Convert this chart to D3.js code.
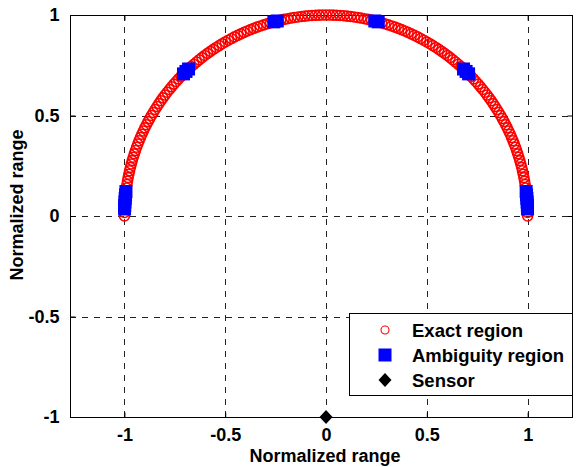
<!DOCTYPE html>
<html>
<head>
<meta charset="utf-8">
<script src="https://cdn.jsdelivr.net/npm/d3@7"></script>
<style>
  body { margin: 0; background: #fff; }
  text { font-family: "Liberation Sans", Arial, sans-serif; font-weight: bold; }
</style>
</head>
<body>
<script>
// exact region: unit radius, sampled angles (degrees)
var exactRadius = 1;
var exactAngles = [
  0, 1, 2, 3, 4, 5, 6, 7, 8, 9, 10, 11, 12, 13, 14, 15, 16, 17, 18, 19,
  20, 21, 22, 23, 24, 25, 26, 27, 28, 29, 30, 31, 32, 33, 34, 35, 36, 37, 38, 39,
  40, 41, 42, 43, 44, 45, 46, 47, 48, 49, 50, 51, 52, 53, 54, 55, 56, 57, 58, 59,
  60, 61, 62, 63, 64, 65, 66, 67, 68, 69, 70, 71, 72, 73, 74, 75, 76, 77, 78, 79,
  80, 81, 82, 83, 84, 85, 86, 87, 88, 89, 90, 91, 92, 93, 94, 95, 96, 97, 98, 99,
  100, 101, 102, 103, 104, 105, 106, 107, 108, 109, 110, 111, 112, 113, 114, 115, 116, 117, 118, 119,
  120, 121, 122, 123, 124, 125, 126, 127, 128, 129, 130, 131, 132, 133, 134, 135, 136, 137, 138, 139,
  140, 141, 142, 143, 144, 145, 146, 147, 148, 149, 150, 151, 152, 153, 154, 155, 156, 157, 158, 159,
  160, 161, 162, 163, 164, 165, 166, 167, 168, 169, 170, 171, 172, 173, 174, 175, 176, 177, 178, 179,
  180
];
// ambiguity region angles (degrees)
var ambiguityAngles = [2, 3, 4, 5, 6, 7, 45, 46, 47, 75, 76, 104, 105, 133, 134, 135, 173, 174, 175, 176, 177, 178];
// sensor position
var sensor = [{ x: 0, y: -1 }];

var xTicks = [-1, -0.5, 0, 0.5, 1];
var yTicks = [-1, -0.5, 0, 0.5, 1];
var legendItems = ["Exact region", "Ambiguity region", "Sensor"];

var W = 578, H = 467;
var box = { left: 70, right: 572, top: 15, bottom: 417 };
var fs = "18px";

var svg = d3.select("body").append("svg")
  .attr("width", W)
  .attr("height", H);

var x = d3.scaleLinear().domain([-1.27, 1.22]).range([box.left, box.right]);
var y = d3.scaleLinear().domain([-1, 1]).range([box.bottom, box.top]);

function toXY(a) {
  var t = a * Math.PI / 180;
  return { x: exactRadius * Math.cos(t), y: exactRadius * Math.sin(t) };
}

// grid
svg.append("g").selectAll("line").data(xTicks).enter().append("line")
  .attr("x1", d => Math.round(x(d)) + 0.5).attr("x2", d => Math.round(x(d)) + 0.5)
  .attr("y1", box.top).attr("y2", box.bottom)
  .style("stroke", "#222").style("stroke-dasharray", "6,6");
svg.append("g").selectAll("line").data(yTicks).enter().append("line")
  .attr("y1", d => Math.round(y(d)) + 0.5).attr("y2", d => Math.round(y(d)) + 0.5)
  .attr("x1", box.left).attr("x2", box.right)
  .style("stroke", "#222").style("stroke-dasharray", "6,6");

// box
svg.append("rect")
  .attr("x", box.left + 0.5).attr("y", box.top + 0.5)
  .attr("width", box.right - box.left).attr("height", box.bottom - box.top)
  .style("fill", "none").style("stroke", "#000");

function styleText(g) {
  g.selectAll("text")
    .style("font-size", fs)
    .style("font-family", "Liberation Sans, Arial")
    .style("font-weight", "bold")
    .attr("fill", "#000");
}

// axes (ticks inward)
svg.append("g")
  .attr("transform", "translate(0," + (box.bottom + 0.5) + ")")
  .call(d3.axisBottom(x).tickValues(xTicks).tickSizeInner(-5).tickSizeOuter(0).tickPadding(11).tickFormat(d => String(d)))
  .call(g => g.select(".domain").remove())
  .call(styleText);
svg.append("g")
  .attr("transform", "translate(0," + (box.top + 0.5) + ")")
  .call(d3.axisTop(x).tickValues(xTicks).tickSizeInner(-5).tickSizeOuter(0).tickFormat(""))
  .call(g => g.select(".domain").remove());
svg.append("g")
  .attr("transform", "translate(" + (box.left + 0.5) + ",0)")
  .call(d3.axisLeft(y).tickValues(yTicks).tickSizeInner(-5).tickSizeOuter(0).tickPadding(11).tickFormat(d => String(d)))
  .call(g => g.select(".domain").remove())
  .call(styleText);
svg.append("g")
  .attr("transform", "translate(" + (box.right + 0.5) + ",0)")
  .call(d3.axisRight(y).tickValues(yTicks).tickSizeInner(-5).tickSizeOuter(0).tickFormat(""))
  .call(g => g.select(".domain").remove());

// axis labels
svg.append("text")
  .attr("x", 325).attr("y", 462)
  .attr("text-anchor", "middle")
  .style("font-size", fs)
  .text("Normalized range");
svg.append("text")
  .attr("transform", "translate(23,205) rotate(-90)")
  .attr("text-anchor", "middle")
  .style("font-size", fs)
  .text("Normalized range");

// exact region
svg.append("g").selectAll("circle").data(exactAngles.map(toXY)).enter().append("circle")
  .attr("cx", d => x(d.x)).attr("cy", d => y(d.y))
  .attr("r", 5)
  .style("fill", "none").style("stroke", "#ff0000").style("stroke-width", 1.6);

// ambiguity region
var sq = 13;
svg.append("g").selectAll("rect").data(ambiguityAngles.map(toXY)).enter().append("rect")
  .attr("x", d => x(d.x) - sq / 2).attr("y", d => y(d.y) - sq / 2)
  .attr("width", sq).attr("height", sq)
  .style("fill", "#0000ff");

// sensor
var diamond = "M0,-7L6.5,0L0,7L-6.5,0Z";
svg.append("g").selectAll("path").data(sensor).enter().append("path")
  .attr("transform", d => "translate(" + x(d.x) + "," + y(d.y) + ")")
  .attr("d", diamond)
  .style("fill", "#000");

// legend
var lg = svg.append("g");
lg.append("rect")
  .attr("x", 349.5).attr("y", 313.5).attr("width", 223).attr("height", 82)
  .style("fill", "#fff").style("stroke", "#000");
var rowY = [330, 355, 380];
lg.append("circle").attr("cx", 385).attr("cy", rowY[0]).attr("r", 4)
  .style("fill", "none").style("stroke", "#ff0000").style("stroke-width", 1.1);
lg.append("rect").attr("x", 385 - 6.5).attr("y", rowY[1] - 6.5).attr("width", 13).attr("height", 13)
  .style("fill", "#0000ff");
lg.append("path").attr("transform", "translate(385," + rowY[2] + ")").attr("d", diamond)
  .style("fill", "#000");
lg.selectAll("text.lbl").data(legendItems).enter().append("text")
  .attr("class", "lbl")
  .attr("x", 412).attr("y", (d, i) => rowY[i] + 6.5)
  .style("font-size", "18.5px")
  .text(d => d);
</script>
</body>
</html>
